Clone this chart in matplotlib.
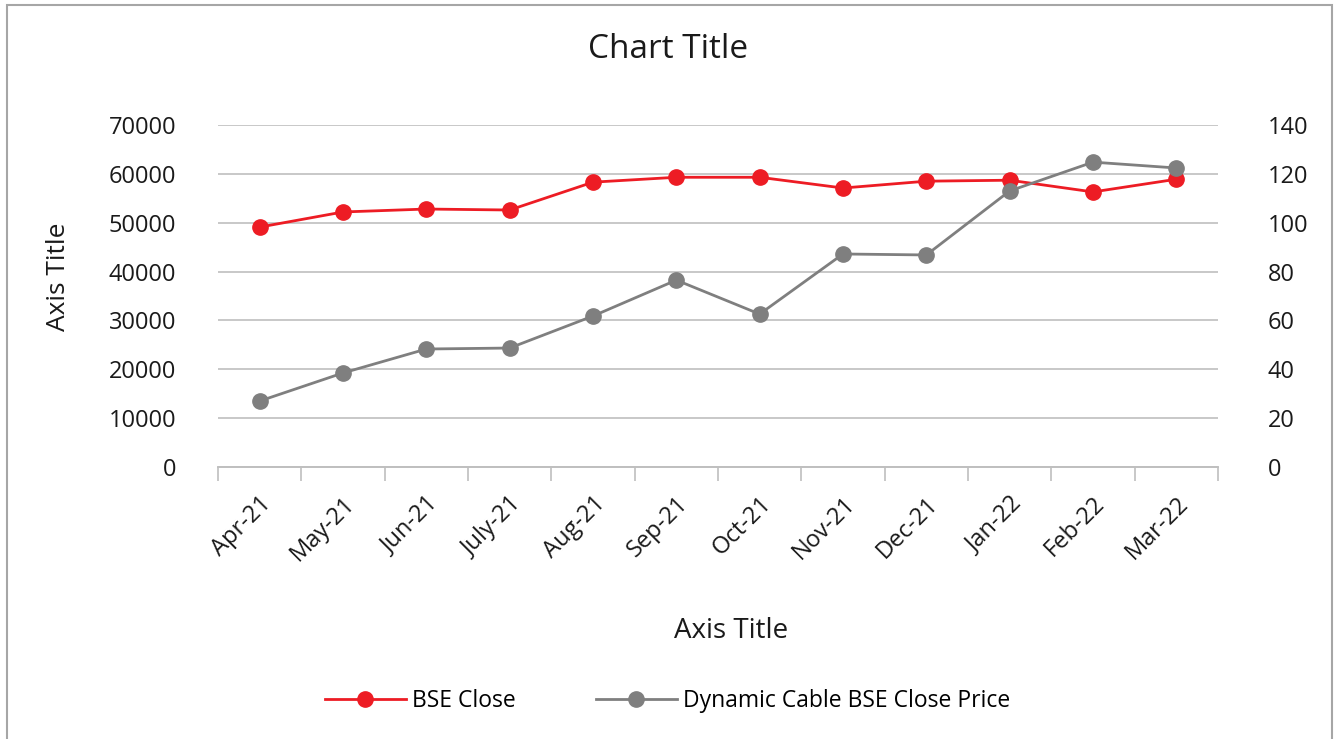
import matplotlib.pyplot as plt
from matplotlib.patches import Rectangle

plt.rcParams['font.family'] = ['Open Sans', 'DejaVu Sans']

months = ['Apr-21', 'May-21', 'Jun-21', 'July-21', 'Aug-21', 'Sep-21',
          'Oct-21', 'Nov-21', 'Dec-21', 'Jan-22', 'Feb-22', 'Mar-22']
bse_close = [49100, 52200, 52800, 52600, 58300, 59300,
             59300, 57100, 58500, 58700, 56300, 58900]
dyn_close = [27.0, 38.5, 48.3, 48.7, 61.8, 76.5,
             62.6, 87.2, 86.8, 113.0, 124.8, 122.4]

red = '#ED1C24'
grey = '#7F7F7F'
grid_c = '#BFBFBF'
txt = '#1a1a1a'

fig = plt.figure(figsize=(13.36, 7.39), dpi=100)
ax = fig.add_axes([218/1336, 1-467/739, 1000/1336, 342/739])
ax2 = ax.twinx()

x = list(range(len(months)))
l1, = ax.plot(x, bse_close, color=red, lw=2, marker='o', ms=11, label='BSE Close', zorder=3)
l2, = ax2.plot(x, dyn_close, color=grey, lw=2, marker='o', ms=11,
               label='Dynamic Cable BSE Close Price', zorder=3)

ax.set_ylim(0, 70000)
ax.set_yticks(range(0, 70001, 10000))
ax2.set_ylim(0, 140)
ax2.set_yticks(range(0, 141, 20))
ax.set_xlim(-0.5, 11.5)

ax.grid(axis='y', color=grid_c, lw=1.2)
ax.set_axisbelow(True)
for a in (ax, ax2):
    for s in ('top', 'left', 'right'):
        a.spines[s].set_visible(False)
    a.spines['bottom'].set_color(grid_c)
    a.spines['bottom'].set_linewidth(1.2)

ax.set_xticks(x)
ax.set_xticklabels(months, rotation=45, ha='right', rotation_mode='anchor', fontsize=17, color=txt)
ax.set_xticks([i - 0.5 for i in range(13)], minor=True)
ax.tick_params(axis='x', which='major', length=0, pad=18)
ax.tick_params(axis='x', which='minor', length=10, color=grid_c, width=1.2)
ax.tick_params(axis='y', length=0, pad=30, labelsize=17, labelcolor=txt)
ax2.tick_params(axis='y', length=0, pad=36, labelsize=17, labelcolor=txt)

ax.set_ylabel('Axis Title', fontsize=19, color=txt)
ax.yaxis.set_label_coords(-147/1000, 190/342)
ax.set_xlabel('Axis Title', fontsize=20, color=txt)
ax.xaxis.set_label_coords(513/1000, -150/342)
fig.text(0.5, 1-50/739, 'Chart Title', ha='center', va='center', fontsize=24, color=txt)

fig.legend(handles=[l1, l2], loc='center', bbox_to_anchor=(0.5, 1-701/739), ncol=2,
           frameon=False, fontsize=16.5, handlelength=3.5, columnspacing=3.5, handletextpad=0.3)

fig.patches.append(Rectangle((7/1336, -0.05), 1325/1336, 1.05-5/739, transform=fig.transFigure,
                             fill=False, edgecolor='#A6A6A6', lw=1.5))

fig.savefig('out.png', dpi=100)
